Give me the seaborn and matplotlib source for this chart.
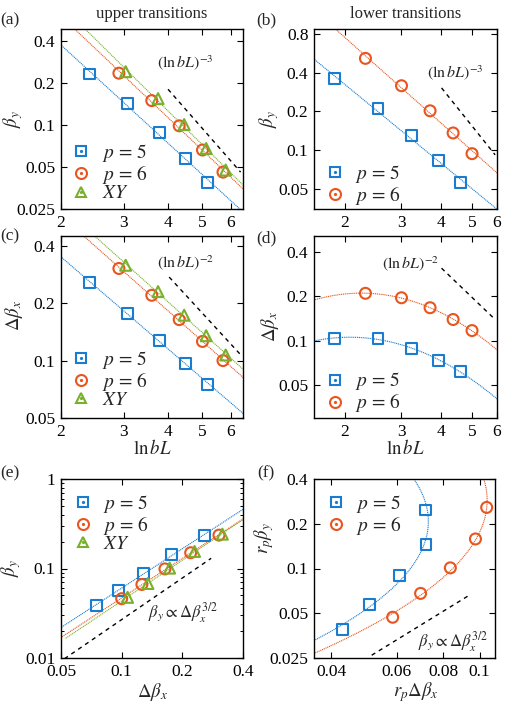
import numpy as np
import matplotlib
matplotlib.use("Agg")
import matplotlib.pyplot as plt
import seaborn as sns
from matplotlib.ticker import FixedLocator, FixedFormatter, NullLocator, LogLocator, NullFormatter
from matplotlib.lines import Line2D
from matplotlib.legend_handler import HandlerTuple

# ---------------- data ----------------
# upper transitions: panels (a), (c), (e)
up_lnbL_p5 = [2.40, 3.08, 3.79, 4.48, 5.17]
up_by_p5 = [0.233, 0.143, 0.0885, 0.0574, 0.0387]
up_dbx_p5 = [0.257, 0.177, 0.128, 0.096, 0.0752]
up_lnbL_p6 = [2.91, 3.60, 4.30, 5.00, 5.71]
up_by_p6 = [0.236, 0.150, 0.0989, 0.0663, 0.046]
up_dbx_p6 = [0.304, 0.220, 0.164, 0.126, 0.100]
up_lnbL_xy = [3.04, 3.75, 4.44, 5.12, 5.81]
up_by_xy = [0.242, 0.155, 0.101, 0.068, 0.0476]
up_dbx_xy = [0.316, 0.230, 0.173, 0.135, 0.107]

# lower transitions: panels (b), (d), (f)
lo_lnbL_p5 = [1.85, 2.54, 3.24, 3.92, 4.62]
lo_by_p5 = [0.358, 0.209, 0.129, 0.083, 0.056]
lo_dbx_p5 = [0.1036, 0.104, 0.0885, 0.0732, 0.0620]
lo_lnbL_p6 = [2.32, 3.01, 3.70, 4.37, 5.01]
lo_by_p6 = [0.515, 0.316, 0.202, 0.136, 0.094]
lo_dbx_p6 = [0.209, 0.195, 0.167, 0.139, 0.117]
r_p5 = 0.691
r_p6 = 0.5

# guide lines (dashed)
ref_a_x, ref_a_y = [4.0, 6.4], [0.181, 0.046]
ref_b_x, ref_b_y = [4.02, 5.92], [0.304, 0.092]
ref_c_x, ref_c_y = [4.03, 6.44], [0.274, 0.106]
ref_d_x, ref_d_y = [4.02, 5.92], [0.309, 0.139]
ref_e_x, ref_e_y = [0.052, 0.278], [0.0098, 0.13]
ref_f_x, ref_f_y = [0.0514, 0.0945], [0.0261, 0.0668]

labels_p = [r"$p\,=\,5$", r"$p\,=\,6$", "$XY$"]

# ---------------- style ----------------
sns.set_style("ticks")
plt.rcParams.update({
    "font.family": ["Liberation Serif", "DejaVu Serif"],
    "mathtext.fontset": "stix",
    "xtick.direction": "in", "ytick.direction": "in",
    "xtick.top": True, "ytick.right": True,
    "xtick.major.size": 4.5, "ytick.major.size": 4.5,
    "xtick.minor.size": 2.5, "ytick.minor.size": 2.5,
    "xtick.major.width": 0.8, "ytick.major.width": 0.8,
    "xtick.minor.width": 0.7, "ytick.minor.width": 0.7,
    "axes.linewidth": 1.0, "axes.edgecolor": "black",
    "xtick.color": "black", "ytick.color": "black",
    "xtick.major.pad": 4, "ytick.major.pad": 4,
    "xtick.labelsize": 12.5, "ytick.labelsize": 12.5,
})

C5, C6, CXY = "#1a7cce", "#e8551e", "#78b02c"
W, H = 508, 709
fig = plt.figure(figsize=(W / 100, H / 100), dpi=100)


def add_ax(l, r, t, b):
    return fig.add_axes([l / W, 1 - b / H, (r - l) / W, (b - t) / H])


def fit(x, y, deg):
    return np.polyfit(np.log(x), np.log(y), deg)


def ev(c, x):
    return np.exp(np.polyval(c, np.log(x)))


def setup(ax, xlim, ylim, xt, yt, yminor=False):
    ax.set_xscale("log")
    ax.set_yscale("log")
    ax.set_xlim(*xlim)
    ax.set_ylim(*ylim)
    ax.xaxis.set_major_locator(FixedLocator(xt))
    ax.xaxis.set_major_formatter(FixedFormatter([f"{v:g}" for v in xt]))
    ax.yaxis.set_major_locator(FixedLocator(yt))
    ax.yaxis.set_major_formatter(FixedFormatter([f"{v:g}" for v in yt]))
    ax.xaxis.set_minor_locator(NullLocator())
    if yminor:
        ax.yaxis.set_minor_locator(LogLocator(base=10, subs=np.arange(2, 10)))
        ax.yaxis.set_minor_formatter(NullFormatter())
    else:
        ax.yaxis.set_minor_locator(NullLocator())
    for s in ax.spines.values():
        s.set_visible(True)
        s.set_linewidth(1.0)


def fitline(ax, xx, yy, color):
    sns.lineplot(x=xx, y=yy, ax=ax, color=color, lw=0.8, linestyle=(0, (1, 0.7)),
                 sort=False, estimator=None, zorder=2)


def points(ax, x, y, color, marker):
    sns.scatterplot(x=x, y=y, ax=ax, marker=marker, s=62, color=color, fc="none",
                    ec=color, linewidth=1.5, zorder=3)


def dashed(ax, x, y):
    sns.lineplot(x=x, y=y, ax=ax, color="black", lw=1.0, linestyle=(0, (3, 3)),
                 sort=False, estimator=None, zorder=1)


def legend(ax, entries, anchor):
    handles, labs = [], []
    for color, marker, lab in entries:
        h1 = Line2D([], [], ls="none", marker=marker, ms=7.9, mfc="none", mec=color, mew=1.5)
        h2 = Line2D([], [], ls="none", marker="o", ms=1.3, mfc=color, mec=color)
        handles.append((h1, h2))
        labs.append(lab)
    ax.legend(handles, labs, handler_map={tuple: HandlerTuple(ndivide=1)},
              loc="upper left", bbox_to_anchor=anchor, frameon=False, borderpad=0,
              borderaxespad=0, handlelength=1.0, handletextpad=0.55, labelspacing=-0.06,
              fontsize=14)


def ftext(x, y, s, **kw):
    fig.text(x / W, 1 - y / H, s, ha="center", va="center", **kw)


markers = ["s", "o", "^"]
colors = [C5, C6, CXY]

# ---------------- (a) ----------------
ax = add_ax(61, 243, 29, 209)
setup(ax, (2, 6.5), (0.025, 0.49), [2, 3, 4, 5, 6], [0.025, 0.05, 0.1, 0.2, 0.4])
xx = np.geomspace(1.8, 7, 200)
for X, Y, c, m in zip([up_lnbL_p5, up_lnbL_p6, up_lnbL_xy], [up_by_p5, up_by_p6, up_by_xy], colors, markers):
    fitline(ax, xx, ev(fit(X, Y, 1), xx), c)
    points(ax, X, Y, c, m)
dashed(ax, ref_a_x, ref_a_y)
ax.set_ylabel(r"$\beta_y$", fontsize=13.5, va="center")
ax.yaxis.set_label_coords(-0.264, 0.5)
legend(ax, list(zip(colors, markers, labels_p)), (0.058, 0.372))

# ---------------- (b) ----------------
ax = add_ax(314, 497, 29, 209)
setup(ax, (1.6, 6.0), (0.035, 0.87), [2, 3, 4, 5, 6], [0.05, 0.1, 0.2, 0.4, 0.8])
xx = np.geomspace(1.4, 7, 200)
for X, Y, c, m in zip([lo_lnbL_p5, lo_lnbL_p6], [lo_by_p5, lo_by_p6], colors, markers):
    fitline(ax, xx, ev(fit(X, Y, 1), xx), c)
    points(ax, X, Y, c, m)
dashed(ax, ref_b_x, ref_b_y)
ax.set_ylabel(r"$\beta_y$", fontsize=13.5, va="center")
ax.yaxis.set_label_coords(-0.246, 0.5)
legend(ax, list(zip(colors[:2], markers[:2], labels_p[:2])), (0.062, 0.257))

# ---------------- (c) ----------------
ax = add_ax(61, 243, 236, 418)
setup(ax, (2, 6.5), (0.05, 0.45), [2, 3, 4, 5, 6], [0.05, 0.1, 0.2, 0.4])
xx = np.geomspace(1.8, 7, 200)
for X, Y, c, m in zip([up_lnbL_p5, up_lnbL_p6, up_lnbL_xy], [up_dbx_p5, up_dbx_p6, up_dbx_xy], colors, markers):
    fitline(ax, xx, ev(fit(X, Y, 1), xx), c)
    points(ax, X, Y, c, m)
dashed(ax, ref_c_x, ref_c_y)
ax.set_ylabel(r"$\Delta\beta_x$", fontsize=13.5, va="center")
ax.yaxis.set_label_coords(-0.258, 0.565)
ax.set_xlabel(r"$\ln bL$", fontsize=13.5, va="center")
ax.xaxis.set_label_coords(0.5, -0.165)
legend(ax, list(zip(colors, markers, labels_p)), (0.058, 0.380))

# ---------------- (d) ----------------
ax = add_ax(314, 497, 236, 418)
setup(ax, (1.6, 6.0), (0.03, 0.51), [2, 3, 4, 5, 6], [0.05, 0.1, 0.2, 0.4])
xx = np.geomspace(1.4, 7, 200)
for X, Y, c, m in zip([lo_lnbL_p5, lo_lnbL_p6], [lo_dbx_p5, lo_dbx_p6], colors, markers):
    fitline(ax, xx, ev(fit(X, Y, 2), xx), c)
    points(ax, X, Y, c, m)
dashed(ax, ref_d_x, ref_d_y)
ax.set_ylabel(r"$\Delta\beta_x$", fontsize=13.5, va="center")
ax.yaxis.set_label_coords(-0.24, 0.5)
ax.set_xlabel(r"$\ln bL$", fontsize=13.5, va="center")
ax.xaxis.set_label_coords(0.5, -0.165)
legend(ax, list(zip(colors[:2], markers[:2], labels_p[:2])), (0.062, 0.261))

# ---------------- (e) ----------------
ax = add_ax(61, 243, 479, 658)
setup(ax, (0.05, 0.4), (0.01, 1), [0.05, 0.1, 0.2, 0.4], [0.01, 0.1, 1], yminor=True)
LL = np.linspace(1.5, 9, 300)
for Lx, Yb, Yd, c, m in zip([up_lnbL_p5, up_lnbL_p6, up_lnbL_xy], [up_by_p5, up_by_p6, up_by_xy],
                            [up_dbx_p5, up_dbx_p6, up_dbx_xy], colors, markers):
    fitline(ax, ev(fit(Lx, Yd, 1), LL), ev(fit(Lx, Yb, 1), LL), c)
    points(ax, Yd, Yb, c, m)
dashed(ax, ref_e_x, ref_e_y)
ax.set_ylabel(r"$\beta_y$", fontsize=13.5, va="center")
ax.yaxis.set_label_coords(-0.275, 0.5)
ax.set_xlabel(r"$\Delta\beta_x$", fontsize=13.5, va="center")
ax.xaxis.set_label_coords(0.5, -0.19)
legend(ax, list(zip(colors, markers, labels_p)), (0.066, 0.923))

# ---------------- (f) ----------------
ax = add_ax(314, 495, 479, 658)
setup(ax, (0.036, 0.11), (0.025, 0.4), [0.04, 0.06, 0.08, 0.1], [0.025, 0.05, 0.1, 0.2, 0.4])
LL = np.linspace(1.3, 9, 400)
for Lx, Yb, Yd, r, c, m in zip([lo_lnbL_p5, lo_lnbL_p6], [lo_by_p5, lo_by_p6], [lo_dbx_p5, lo_dbx_p6],
                               [r_p5, r_p6], colors, markers):
    fitline(ax, r * ev(fit(Lx, Yd, 2), LL), r * ev(fit(Lx, Yb, 1), LL), c)
    points(ax, r * np.array(Yd), r * np.array(Yb), c, m)
dashed(ax, ref_f_x, ref_f_y)
ax.set_ylabel(r"$r_p\beta_y$", fontsize=13.5, va="center")
ax.yaxis.set_label_coords(-0.276, 0.67)
ax.set_xlabel(r"$r_p\Delta\beta_x$", fontsize=13.5, va="center")
ax.xaxis.set_label_coords(0.563, -0.19)
legend(ax, list(zip(colors[:2], markers[:2], labels_p[:2])), (0.066, 0.921))

# ---------------- texts ----------------
ftext(152, 14, "upper transitions", fontsize=12)
ftext(405.5, 14, "lower transitions", fontsize=12)
ftext(185, 63, r"$(\ln bL)^{-3}$", fontsize=11.5)
ftext(455.7, 73, r"$(\ln bL)^{-3}$", fontsize=11.5)
ftext(185.7, 262.3, r"$(\ln bL)^{-2}$", fontsize=11.5)
ftext(410.7, 263.3, r"$(\ln bL)^{-2}$", fontsize=11.5)
ftext(183, 613, r"$\beta_y \propto \Delta\beta_x^{3/2}$", fontsize=12)
ftext(453, 641.7, r"$\beta_y \propto \Delta\beta_x^{3/2}$", fontsize=12)
for lab, (x, y) in zip("abcdef", [(10, 20), (266, 20), (10, 236), (266, 238), (10, 473), (266, 473)]):
    ftext(x, y, f"({lab})", fontsize=12.5)

fig.savefig("out.png", dpi=100)
